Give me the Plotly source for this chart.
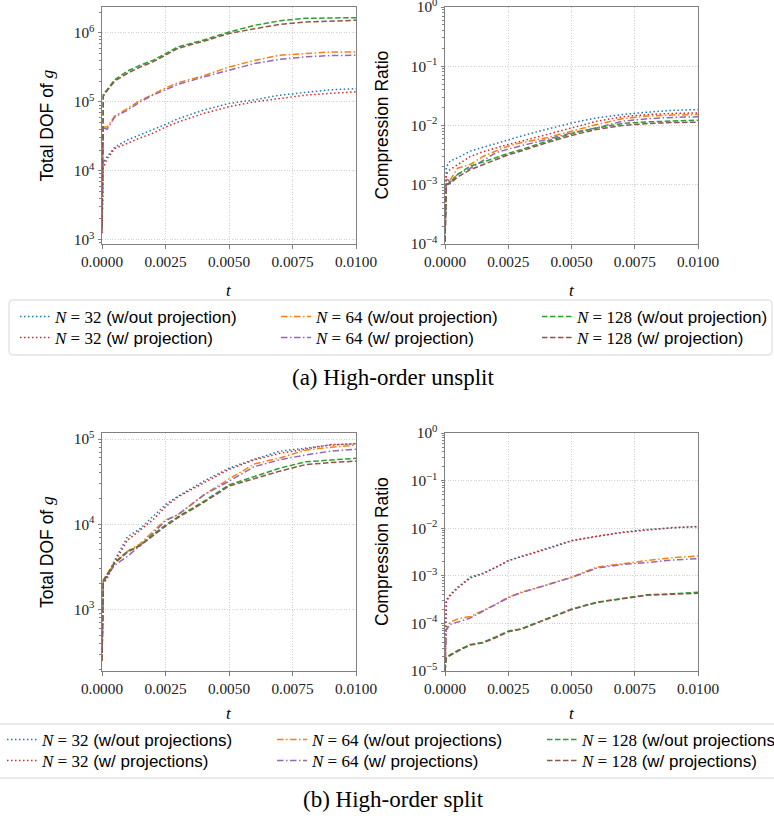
import plotly.graph_objects as go

W, H = 774, 825

# ---------------- data ----------------
T = [0, 0.00005, 0.0002, 0.0005, 0.001, 0.0015, 0.002, 0.0025, 0.003,
     0.004, 0.005, 0.006, 0.007, 0.008, 0.009, 0.01]

# (a) High-order unsplit : Total DOF of g
a_dof_32_wo = [1.25e3, 1.3e4, 1.6e4, 2.2e4, 2.8e4, 3.3e4, 3.9e4, 4.7e4, 5.7e4, 7.6e4, 9.5e4, 1.07e5, 1.25e5, 1.38e5, 1.5e5, 1.55e5]
a_dof_32_w = [1.24e3, 1.1e4, 1.5e4, 2.1e4, 2.5e4, 3.0e4, 3.5e4, 4.3e4, 5.1e4, 6.8e4, 8.5e4, 1.0e5, 1.12e5, 1.25e5, 1.33e5, 1.4e5]
a_dof_64_wo = [1.3e3, 4.3e4, 4.3e4, 6.2e4, 8.0e4, 1.05e5, 1.28e5, 1.6e5, 1.9e5, 2.4e5, 3.2e5, 4.0e5, 4.75e5, 5.0e5, 5.3e5, 5.3e5]
a_dof_64_w = [1.3e3, 4.2e4, 4.0e4, 6.0e4, 7.6e4, 1.0e5, 1.25e5, 1.5e5, 1.8e5, 2.3e5, 2.9e5, 3.6e5, 4.15e5, 4.5e5, 4.7e5, 4.75e5]
a_dof_128_wo = [1.5e3, 1.3e5, 1.5e5, 2.1e5, 2.8e5, 3.4e5, 4.0e5, 5.0e5, 6.3e5, 7.9e5, 1.03e6, 1.29e6, 1.5e6, 1.63e6, 1.66e6, 1.67e6]
a_dof_128_w = [1.5e3, 1.2e5, 1.45e5, 2.0e5, 2.6e5, 3.2e5, 3.8e5, 4.8e5, 6.0e5, 7.6e5, 9.8e5, 1.15e6, 1.33e6, 1.44e6, 1.5e6, 1.53e6]

# (a) High-order unsplit : Compression ratio
a_cr_32_wo = [1.1e-4, 2.0e-3, 2.5e-3, 2.85e-3, 3.7e-3, 4.3e-3, 5.0e-3, 5.8e-3, 6.6e-3, 8.6e-3, 1.1e-2, 1.35e-2, 1.53e-2, 1.68e-2, 1.8e-2, 1.86e-2]
a_cr_32_w = [1.1e-4, 1.5e-3, 1.8e-3, 2.2e-3, 3.0e-3, 3.6e-3, 4.2e-3, 4.8e-3, 5.4e-3, 7.05e-3, 9.1e-3, 1.18e-2, 1.4e-2, 1.53e-2, 1.6e-2, 1.63e-2]
a_cr_64_wo = [1.1e-4, 1.2e-3, 1.2e-3, 1.9e-3, 2.2e-3, 3.0e-3, 3.7e-3, 4.5e-3, 5.1e-3, 6.2e-3, 8.0e-3, 1.04e-2, 1.3e-2, 1.44e-2, 1.5e-2, 1.53e-2]
a_cr_64_w = [1.1e-4, 1.3e-3, 1.1e-3, 1.5e-3, 1.9e-3, 2.6e-3, 3.45e-3, 4.0e-3, 4.5e-3, 5.8e-3, 7.5e-3, 9.1e-3, 1.18e-2, 1.3e-2, 1.37e-2, 1.4e-2]
a_cr_128_wo = [1.1e-4, 1.0e-3, 1.1e-3, 1.5e-3, 2.06e-3, 2.4e-3, 2.85e-3, 3.4e-3, 3.9e-3, 5.4e-3, 7.3e-3, 9.1e-3, 1.08e-2, 1.15e-2, 1.2e-2, 1.23e-2]
a_cr_128_w = [1.1e-4, 1.0e-3, 1.05e-3, 1.35e-3, 1.8e-3, 2.2e-3, 2.7e-3, 3.2e-3, 3.7e-3, 5.1e-3, 6.8e-3, 8.6e-3, 1.0e-2, 1.08e-2, 1.12e-2, 1.14e-2]

# (b) High-order split : Total DOF of g
b_dof_32_wo = [2.5e2, 2.0e3, 2.4e3, 3.8e3, 7.1e3, 8.9e3, 1.23e4, 1.7e4, 2.15e4, 3.2e4, 4.55e4, 5.8e4, 7.2e4, 7.8e4, 8.5e4, 8.8e4]
b_dof_32_w = [2.5e2, 2.0e3, 2.3e3, 3.6e3, 6.5e3, 8.5e3, 1.12e4, 1.6e4, 2.1e4, 3.05e4, 4.4e4, 5.7e4, 6.8e4, 7.6e4, 8.6e4, 8.8e4]
b_dof_64_wo = [2.5e2, 2.2e3, 2.6e3, 3.5e3, 4.8e3, 5.9e3, 8.2e3, 1.12e4, 1.3e4, 2.2e4, 3.4e4, 5.1e4, 6.0e4, 7.4e4, 8.0e4, 8.5e4]
b_dof_64_w = [2.5e2, 2.1e3, 2.5e3, 3.3e3, 4.2e3, 5.6e3, 7.8e3, 1.1e4, 1.3e4, 2.2e4, 3.2e4, 4.75e4, 5.7e4, 6.5e4, 7.2e4, 7.6e4]
b_dof_128_wo = [2.5e2, 2.2e3, 2.6e3, 3.6e3, 4.8e3, 5.7e3, 7.5e3, 9.8e3, 1.23e4, 1.85e4, 2.9e4, 3.6e4, 4.55e4, 5.4e4, 5.7e4, 5.95e4]
b_dof_128_w = [2.5e2, 2.1e3, 2.5e3, 3.5e3, 4.7e3, 5.6e3, 7.3e3, 9.5e3, 1.2e4, 1.8e4, 2.8e4, 3.45e4, 4.2e4, 5.0e4, 5.3e4, 5.5e4]

# (b) High-order split : Compression ratio
b_cr_32_wo = [1.0e-5, 3.1e-4, 4.0e-4, 5.8e-4, 9.4e-4, 1.14e-3, 1.5e-3, 2.1e-3, 2.55e-3, 3.7e-3, 5.5e-3, 6.7e-3, 8.2e-3, 9.4e-3, 1.02e-2, 1.09e-2]
b_cr_32_w = [1.0e-5, 2.9e-4, 3.8e-4, 5.5e-4, 9.0e-4, 1.1e-3, 1.5e-3, 2.05e-3, 2.5e-3, 3.6e-3, 5.4e-3, 6.8e-3, 8.1e-3, 9.2e-3, 1.03e-2, 1.08e-2]
b_cr_64_wo = [1.0e-5, 7.6e-5, 1.06e-4, 1.24e-4, 1.4e-4, 1.86e-4, 2.5e-4, 3.55e-4, 4.5e-4, 6.4e-4, 9.4e-4, 1.52e-3, 1.8e-3, 2.1e-3, 2.4e-3, 2.6e-3]
b_cr_64_w = [1.0e-5, 7.2e-5, 9.5e-5, 1.06e-4, 1.3e-4, 1.8e-4, 2.45e-4, 3.45e-4, 4.4e-4, 6.3e-4, 9.2e-4, 1.45e-3, 1.72e-3, 1.9e-3, 2.15e-3, 2.3e-3]
b_cr_128_wo = [1.0e-5, 1.9e-5, 2.2e-5, 2.7e-5, 3.6e-5, 4.0e-5, 5.2e-5, 6.9e-5, 7.7e-5, 1.23e-4, 2.0e-4, 2.8e-4, 3.3e-4, 4.0e-4, 4.2e-4, 4.5e-4]
b_cr_128_w = [1.0e-5, 1.85e-5, 2.1e-5, 2.6e-5, 3.5e-5, 3.9e-5, 5.0e-5, 6.7e-5, 7.5e-5, 1.2e-4, 1.95e-4, 2.75e-4, 3.25e-4, 3.9e-4, 4.1e-4, 4.3e-4]

N_values = [32, 32, 64, 64, 128, 128]
proj_a = ["(w/out projection)", "(w/ projection)"] * 3
proj_b = ["(w/out projections)", "(w/ projections)"] * 3
x_ticks = [0, 0.0025, 0.005, 0.0075, 0.01]
x_ticklabels = ["0.0000", "0.0025", "0.0050", "0.0075", "0.0100"]
y_exponents_a_dof = [3, 4, 5, 6]
y_exponents_cr_a = [-4, -3, -2, -1, 0]
y_exponents_b_dof = [3, 4, 5]
y_exponents_cr_b = [-5, -4, -3, -2, -1, 0]

# ---------------- style ----------------
colors = ["#1f77b4", "#d62728", "#ff7f0e", "#9467bd", "#2ca02c", "#8c564b"]
dashes = ["1.5px,2.5px", "1.5px,2.5px", "6.5px,2.5px,1.5px,2.5px",
          "6.5px,2.5px,1.5px,2.5px", "5.5px,2.5px", "5.5px,2.5px"]
SERIF = "Liberation Serif"
SANS = "Liberation Sans"

def px(x):
    return x / W

def py(y):
    return 1 - y / H

def legend_id(n):
    return "legend" if n == 1 else "legend%d" % n

fig = go.Figure()

panels = [
    ("x", "y", [a_dof_32_wo, a_dof_32_w, a_dof_64_wo, a_dof_64_w, a_dof_128_wo, a_dof_128_w], True, proj_a, 1),
    ("x2", "y2", [a_cr_32_wo, a_cr_32_w, a_cr_64_wo, a_cr_64_w, a_cr_128_wo, a_cr_128_w], False, proj_a, 1),
    ("x3", "y3", [b_dof_32_wo, b_dof_32_w, b_dof_64_wo, b_dof_64_w, b_dof_128_wo, b_dof_128_w], True, proj_b, 7),
    ("x4", "y4", [b_cr_32_wo, b_cr_32_w, b_cr_64_wo, b_cr_64_w, b_cr_128_wo, b_cr_128_w], False, proj_b, 7),
]

for xa, ya, series, show, labels, leg0 in panels:
    for i, vals in enumerate(series):
        name = ('<span style="font-family:%s"><i>N</i> = %d</span> %s'
                % (SERIF, N_values[i], labels[i]))
        fig.add_trace(go.Scatter(
            x=T, y=vals, mode="lines", name=name,
            line=dict(color=colors[i], width=1.5, dash=dashes[i]),
            xaxis=xa, yaxis=ya, showlegend=show, legend=legend_id(leg0 + i),
        ))

# axes geometry (pixels)
LX = (102, 356)
RX = (445, 698)
TY = (7, 244)
BY = (433, 671)

axis_common = dict(
    showline=True, linecolor="#808080", linewidth=1, mirror=True,
    showgrid=True, gridcolor="#cfcfcf", griddash="1px,1.6px", gridwidth=0.8,
    ticks="outside", ticklen=3.5, tickcolor="#808080", tickwidth=0.8,
    tickfont=dict(family=SERIF, size=15.3, color="#222"),
    zeroline=False, automargin=False, ticklabeloverflow="allow",
)

def xaxis(dom, anchor):
    return dict(axis_common, domain=[px(dom[0]), px(dom[1])], anchor=anchor,
                range=[0, 0.01], tickmode="array", tickvals=x_ticks,
                ticktext=x_ticklabels)

def pow_label(e):
    return "10<sup>%s</sup>" % (("\u2212%d" % -e) if e < 0 else ("%d" % e))

def yaxis(dom, anchor, rng, exps):
    return dict(axis_common, domain=[py(dom[1]), py(dom[0])], anchor=anchor,
                type="log", range=rng, tickmode="array",
                tickvals=[10.0 ** e for e in exps],
                ticktext=[pow_label(e) for e in exps],
                minor=dict(ticks="outside", ticklen=2, tickcolor="#808080",
                           tickmode="linear", dtick="D1", showgrid=False))

fig.update_layout(
    xaxis=xaxis(LX, "y"), yaxis=yaxis(TY, "x", [2.937, 6.377], y_exponents_a_dof),
    xaxis2=xaxis(RX, "y2"), yaxis2=yaxis(TY, "x2", [-4, 0], y_exponents_cr_a),
    xaxis3=xaxis(LX, "y3"), yaxis3=yaxis(BY, "x3", [2.278, 5.071], y_exponents_b_dof),
    xaxis4=xaxis(RX, "y4"), yaxis4=yaxis(BY, "x4", [-5, 0], y_exponents_cr_b),
)

# legends: one entry each, laid out in 3 columns x 2 rows per figure half
leg_font = dict(family=SANS, size=17, color="black")
def legend(xp, yp):
    return dict(x=px(xp), y=py(yp), xanchor="left", yanchor="top",
                bgcolor="rgba(0,0,0,0)", borderwidth=0, font=leg_font,
                itemwidth=30, tracegroupgap=0)

top_cols = [15, 276, 537]
bot_cols = [2, 272, 542]
top_rows = [299, 320]
bot_rows = [722, 743]
leg_layout = {}
for c in range(3):
    for r in range(2):
        leg_layout[legend_id(1 + 2 * c + r)] = legend(top_cols[c], top_rows[r])
        leg_layout[legend_id(7 + 2 * c + r)] = legend(bot_cols[c], bot_rows[r])
fig.update_layout(**leg_layout)

def rounded_box(x0, y0, x1, y1, r):
    X = lambda v: "%.5f" % px(v)
    Y = lambda v: "%.5f" % py(v)
    return ("M %s,%s L %s,%s Q %s,%s %s,%s L %s,%s Q %s,%s %s,%s "
            "L %s,%s Q %s,%s %s,%s L %s,%s Q %s,%s %s,%s Z") % (
        X(x0 + r), Y(y0), X(x1 - r), Y(y0), X(x1), Y(y0), X(x1), Y(y0 + r),
        X(x1), Y(y1 - r), X(x1), Y(y1), X(x1 - r), Y(y1),
        X(x0 + r), Y(y1), X(x0), Y(y1), X(x0), Y(y1 - r),
        X(x0), Y(y0 + r), X(x0), Y(y0), X(x0 + r), Y(y0))

fig.update_layout(shapes=[
    dict(type="path", xref="paper", yref="paper", path=rounded_box(9, 300, 772, 355, 4),
         line=dict(color="#d6d6d6", width=1), fillcolor="rgba(0,0,0,0)", layer="below"),
    dict(type="path", xref="paper", yref="paper", path=rounded_box(-6, 724, 790, 778, 4),
         line=dict(color="#d6d6d6", width=1), fillcolor="rgba(0,0,0,0)", layer="below"),
])

annots = []
def ann(text, x, y, size, family, angle=0):
    annots.append(dict(text=text, x=px(x), y=py(y), xref="paper", yref="paper",
                       showarrow=False, xanchor="center", yanchor="middle",
                       textangle=angle, font=dict(family=family, size=size, color="black")))

dof_title = 'Total DOF of <span style="font-family:%s"><i>g</i></span>' % SERIF
ann(dof_title, 47, (TY[0] + TY[1]) / 2, 17.5, SANS, -90)
ann("Compression Ratio", 382, (TY[0] + TY[1]) / 2, 17.5, SANS, -90)
ann(dof_title, 47, (BY[0] + BY[1]) / 2, 17.5, SANS, -90)
ann("Compression Ratio", 382, (BY[0] + BY[1]) / 2, 17.5, SANS, -90)
for cx in [(LX[0] + LX[1]) / 2, (RX[0] + RX[1]) / 2]:
    ann("<i>t</i>", cx, 290, 17, SERIF)
    ann("<i>t</i>", cx, 713, 17, SERIF)
ann("(a) High-order unsplit", 393, 377, 23, SERIF)
ann("(b) High-order split", 393, 799, 23, SERIF)

fig.update_layout(
    annotations=annots,
    width=W, height=H,
    margin=dict(l=0, r=0, t=0, b=0, autoexpand=False),
    paper_bgcolor="white", plot_bgcolor="white",
    showlegend=True,
)

fig.write_html("out.html", config={"displayModeBar": False},
               post_script="document.body.style.margin='0';")
